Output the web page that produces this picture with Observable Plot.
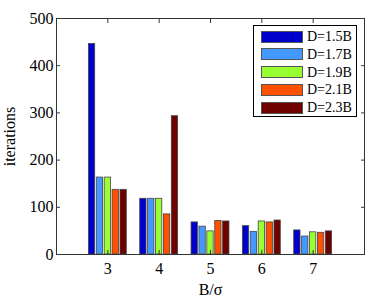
<!DOCTYPE html>
<html>
<head>
<meta charset="utf-8">
<script src="https://cdn.jsdelivr.net/npm/d3@7"></script>
<script src="https://cdn.jsdelivr.net/npm/@observablehq/plot@0.6"></script>
<style>
  html, body { margin: 0; padding: 0; background: #fff; }
  #wrap { position: relative; width: 374px; height: 297px; font-family: "Liberation Serif", serif; }
  #legend { position: absolute; left: 253px; top: 25px; width: 104px; height: 92px; border: 1px solid #000; background: #fff; box-sizing: border-box; }
  .row { position: absolute; left: 7px; height: 13px; display: flex; align-items: center; }
  .sw { width: 42px; height: 12px; border: 1px solid #555; box-sizing: border-box; }
  .lab { margin-left: 4px; font-size: 14px; color: #000; line-height: 13px; }
</style>
</head>
<body>
<div id="wrap"></div>
<script>
const categories = [3, 4, 5, 6, 7];
const seriesNames = ["D=1.5B", "D=1.7B", "D=1.9B", "D=2.1B", "D=2.3B"];
const d15 = [446, 118, 68, 60, 51];
const d17 = [163, 118, 59, 48, 38];
const d19 = [163, 118, 49, 70, 47];
const d21 = [137, 85, 71, 68, 46];
const d23 = [137, 293, 70, 72, 49];
const seriesValues = [d15, d17, d19, d21, d23];
const colors = ["#0000cc", "#4499ff", "#99ff33", "#ff5000", "#6e0000"];
const yTicks = [0, 100, 200, 300, 400, 500];

const nS = seriesNames.length;
const groupWidth = Math.min(0.8, nS / (nS + 1.5));
const step = groupWidth / nS;
const barW = 0.8 * step;

const rows = [];
seriesValues.forEach((vals, i) => {
  vals.forEach((v, j) => {
    const c = categories[j] + (i - (nS - 1) / 2) * step;
    rows.push({series: seriesNames[i], cat: categories[j], x1: c - barW / 2, x2: c + barW / 2, value: v});
  });
});

const plot = Plot.plot({
  width: 374,
  height: 297,
  marginLeft: 56,
  marginRight: 10,
  marginTop: 18,
  marginBottom: 43,
  style: {fontFamily: "Liberation Serif, serif", fontSize: "16px", color: "#000", background: "#fff"},
  x: {type: "linear", domain: [2, 8]},
  y: {domain: [0, 500]},
  color: {domain: seriesNames, range: colors},
  marks: [
    Plot.rectY(rows, {x1: "x1", x2: "x2", y1: 0, y2: "value", fill: "series", stroke: "#444", strokeWidth: 0.8}),
    Plot.frame({stroke: "#333", strokeWidth: 1}),
    Plot.axisY({anchor: "left", ticks: yTicks, tickSize: -4, tickPadding: 7, label: "iterations", labelAnchor: "center", labelArrow: "none", stroke: "#333"}),
    Plot.axisY({anchor: "right", ticks: yTicks, tickSize: -4, tickFormat: () => "", label: null, stroke: "#333"}),
    Plot.axisX({anchor: "bottom", ticks: categories, tickSize: -4, tickPadding: 12, tickFormat: d => String(d), label: "B/σ", labelAnchor: "center", labelArrow: "none", stroke: "#333"}),
    Plot.axisX({anchor: "top", ticks: categories, tickSize: -4, tickFormat: () => "", label: null, stroke: "#333"})
  ]
});

const wrap = document.getElementById("wrap");
wrap.appendChild(plot);

const legend = document.createElement("div");
legend.id = "legend";
seriesNames.forEach((name, i) => {
  const row = document.createElement("div");
  row.className = "row";
  row.style.top = (4 + i * 17.8) + "px";
  const sw = document.createElement("div");
  sw.className = "sw";
  sw.style.background = colors[i];
  const lab = document.createElement("span");
  lab.className = "lab";
  lab.textContent = name;
  row.appendChild(sw);
  row.appendChild(lab);
  legend.appendChild(row);
});
wrap.appendChild(legend);
</script>
</body>
</html>
